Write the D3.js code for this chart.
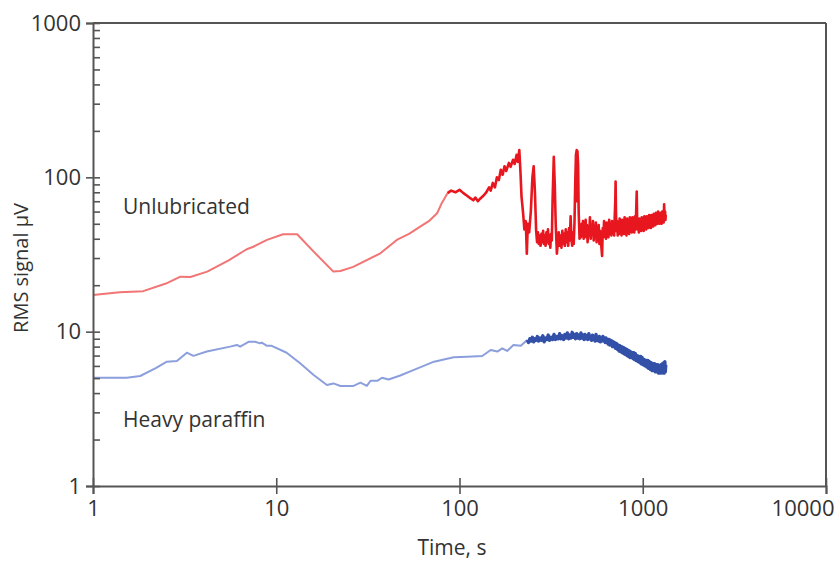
<!DOCTYPE html>
<html>
<head>
<meta charset="utf-8">
<script src="https://cdn.jsdelivr.net/npm/d3@7"></script>
<style>
  body { margin: 0; background: #fff; }
  text { font-family: "Open Sans", sans-serif; fill: #333; }
</style>
</head>
<body>
<script>
// time ticks and signal ticks
const xTicks = [1, 10, 100, 1000, 10000];
const yTicks = [1, 10, 100, 1000];
const yMinor = [2, 3, 4, 5, 6, 7, 8, 9, 20, 30, 40, 50, 60, 70, 80, 90, 200, 300, 400, 500, 600, 700, 800, 900];

// unlubricated, smooth early part [time s, µV]
const unlubSmooth = [
  [1, 17.3], [1.4, 18], [1.88, 18.3], [2.5, 20.5], [3, 22.7], [3.4, 22.6], [4.2, 24.5],
  [5.5, 29], [6.9, 34.2], [7.5, 35.5], [8.9, 39.3], [10.9, 42.8], [13, 42.8],
  [16, 33], [20.5, 24.5], [22.4, 24.7], [26.3, 26.3], [37, 32.2], [45.5, 39.3],
  [53, 43], [61, 47.9], [68, 52], [75.5, 58.5], [80, 68], [86, 79]
];

// unlubricated, noisy part
const unlubNoisy = [
  [86, 79], [90, 82], [95, 80], [100, 83], [105, 79], [110, 76], [115, 73], [119, 71], [122, 74],
  [126, 70], [130, 73], [135, 76], [140, 80], [145, 86], [148, 82], [152, 92], [156, 86], [160, 100],
  [164, 96], [168, 112], [172, 104], [176, 118], [180, 110], [186, 124], [190, 117], [196, 130],
  [200, 122], [205, 140], [208, 126], [212, 150], [215, 110], [218, 75], [222, 60], [226, 46],
  [230, 52], [233, 32], [236, 50], [240, 44], [245, 60], [250, 100], [254, 118], [258, 80], [262, 45],
  [265, 38], [268, 44], [271, 37], [274, 42], [277, 36], [280, 43], [283, 38], [286, 45], [289, 37],
  [292, 42], [295, 36], [298, 44], [301, 38], [304, 46], [307, 37], [310, 42], [313, 35], [316, 43],
  [319, 39], [322, 70], [327, 136], [331, 90], [335, 50], [340, 32], [344, 38], [348, 44], [352, 36],
  [356, 42], [360, 35], [364, 45], [368, 37], [372, 43], [376, 36], [380, 46], [384, 38], [388, 44],
  [392, 36], [396, 47], [400, 39], [404, 56], [408, 40], [412, 36], [416, 44], [420, 37], [424, 50],
  [428, 90], [432, 140], [436, 150], [438, 70], [440, 148], [444, 120], [447, 60], [452, 40],
  [456, 48], [460, 41], [464, 50], [468, 43], [472, 52], [476, 40], [480, 47], [484, 42], [488, 53],
  [492, 41], [496, 49], [500, 38], [505, 46], [510, 42], [515, 55], [520, 40], [525, 48], [530, 43],
  [535, 52], [540, 39], [545, 47], [550, 42], [555, 51], [560, 38], [565, 46], [570, 41], [575, 49],
  [580, 37], [585, 45], [590, 40], [595, 35], [600, 31], [605, 47], [610, 41], [615, 52], [620, 42],
  [625, 49], [630, 40], [635, 51], [640, 43], [645, 48], [650, 41], [656, 53], [662, 43], [668, 50],
  [674, 42], [680, 52], [686, 44], [692, 49], [698, 42], [704, 58], [708, 70], [711, 94], [714, 62],
  [718, 45], [724, 52], [730, 42], [736, 50], [742, 43], [748, 54], [754, 44], [760, 50], [766, 42],
  [772, 53], [778, 45], [784, 51], [790, 43], [796, 55], [802, 44], [808, 50], [815, 42], [822, 54],
  [829, 45], [836, 52], [843, 43], [850, 55], [857, 45], [864, 51], [871, 44], [878, 55], [885, 45],
  [892, 52], [899, 44], [906, 56], [913, 46], [920, 58], [927, 81], [932, 54], [938, 46], [945, 53],
  [952, 44], [959, 54], [966, 46], [973, 52], [980, 45], [988, 55], [996, 46], [1004, 53], [1012, 45],
  [1020, 56], [1028, 47], [1036, 54], [1044, 46], [1052, 56], [1060, 47], [1068, 54], [1076, 47],
  [1084, 57], [1092, 48], [1100, 55], [1108, 47], [1116, 57], [1124, 49], [1132, 56], [1140, 48],
  [1148, 58], [1156, 49], [1164, 56], [1172, 49], [1180, 59], [1188, 50], [1196, 57], [1204, 50],
  [1212, 60], [1220, 51], [1228, 58], [1236, 50], [1244, 59], [1252, 51], [1260, 58], [1268, 50],
  [1276, 60], [1284, 52], [1292, 58], [1300, 51], [1308, 67], [1316, 53], [1324, 60], [1330, 53],
  [1335, 57]
];

// heavy paraffin, smooth early part
const paraffinSmooth = [
  [1, 5.03], [1.53, 5.03], [1.81, 5.16], [2.2, 5.8], [2.53, 6.39], [2.87, 6.45], [3.25, 7.31],
  [3.53, 6.97], [4.18, 7.43], [5.6, 8.0], [6.1, 8.2], [6.35, 8.0], [7.06, 8.6], [7.67, 8.6],
  [8.17, 8.4], [8.34, 8.5], [8.9, 8.1], [9.45, 8.1], [11.4, 7.3], [13.5, 6.24], [16, 5.24],
  [18.9, 4.51], [20.5, 4.62], [22.4, 4.45], [26.4, 4.45], [28.8, 4.67], [31.2, 4.45], [32.7, 4.81],
  [35.6, 4.8], [37.8, 5.03], [41, 4.9], [47.5, 5.2], [56.4, 5.65], [72.6, 6.39], [93, 6.82],
  [110, 6.88], [133, 6.95], [148, 7.61], [161, 7.43], [171, 7.8], [182, 7.5], [197, 8.2],
  [216, 8.1], [234, 8.84]
];

// heavy paraffin, noisy part
const paraffinNoisy = [
  [234, 8.84], [238, 8.5], [242, 9.0], [246, 8.7], [250, 9.2], [254, 8.6], [258, 9.0], [262, 8.8],
  [266, 9.3], [270, 8.7], [275, 9.1], [280, 8.8], [285, 9.4], [290, 8.6], [295, 9.1], [300, 8.9],
  [305, 9.5], [310, 8.8], [316, 9.2], [322, 8.9], [328, 9.6], [334, 8.9], [340, 9.3], [346, 9.0],
  [352, 9.7], [358, 9.0], [364, 9.4], [370, 8.9], [376, 9.6], [382, 9.1], [388, 9.8], [394, 9.0],
  [400, 9.5], [406, 9.1], [412, 9.9], [418, 9.2], [424, 9.6], [430, 9.0], [436, 9.7], [442, 9.1],
  [448, 9.5], [454, 9.0], [460, 9.8], [466, 9.1], [472, 9.5], [478, 8.9], [484, 9.6], [490, 9.0],
  [496, 9.4], [502, 8.9], [508, 9.7], [514, 9.0], [520, 9.3], [526, 8.8], [532, 9.5], [538, 8.9],
  [544, 9.2], [550, 8.7], [556, 9.6], [562, 8.8], [568, 9.2], [574, 8.7], [580, 9.3], [586, 8.6],
  [592, 9.1], [600, 8.7], [606, 9.3], [612, 8.7], [618, 9.1], [624, 8.5], [630, 9.1], [636, 8.5],
  [642, 8.9], [648, 8.3], [654, 8.9], [660, 8.2], [666, 8.8], [672, 8.2], [678, 8.7], [684, 8.0],
  [690, 8.6], [696, 8.0], [702, 8.5], [710, 7.8], [718, 8.4], [726, 7.7], [734, 8.2], [742, 7.5],
  [750, 8.1], [758, 7.4], [766, 8.0], [774, 7.3], [782, 7.9], [790, 7.2], [798, 7.8], [806, 7.1],
  [814, 7.7], [822, 7.0], [830, 7.6], [838, 6.9], [846, 7.5], [854, 6.8], [862, 7.4], [870, 6.8],
  [878, 7.3], [886, 6.7], [894, 7.3], [902, 6.6], [912, 7.2], [922, 6.5], [932, 7.0], [942, 6.4],
  [952, 6.9], [962, 6.3], [972, 6.9], [982, 6.2], [992, 6.8], [1004, 6.1], [1016, 6.6], [1028, 6.0],
  [1040, 6.5], [1052, 5.9], [1064, 6.5], [1076, 5.8], [1088, 6.4], [1100, 5.7], [1112, 6.3],
  [1124, 5.6], [1136, 6.2], [1148, 5.6], [1160, 6.2], [1172, 5.5], [1184, 6.1], [1196, 5.5],
  [1208, 6.1], [1220, 5.4], [1232, 6.0], [1244, 5.4], [1256, 6.1], [1268, 5.4], [1280, 6.2],
  [1292, 5.4], [1302, 6.3], [1312, 5.4], [1320, 6.4], [1328, 5.5], [1335, 6.1]
];

const W = 839, H = 563;
const mLeft = 93, mRight = 826, mTop = 23, mBottom = 486;
const axisCol = "#555";

const svg = d3.select("body").append("svg")
  .attr("width", W)
  .attr("height", H);

const x = d3.scaleLog().domain([1, 10000]).range([mLeft, mRight]);
const y = d3.scaleLog().domain([1, 1000]).range([mBottom, mTop]);

const line = d3.line()
  .x(d => x(d[0]))
  .y(d => y(d[1]));

// frame top + right
svg.append("line")
  .attr("x1", mLeft).attr("x2", mRight).attr("y1", mTop).attr("y2", mTop)
  .attr("stroke", axisCol).attr("stroke-width", 2);
svg.append("line")
  .attr("x1", mRight).attr("x2", mRight).attr("y1", mTop).attr("y2", mBottom)
  .attr("stroke", axisCol).attr("stroke-width", 2);

// data lines
svg.append("path").datum(unlubSmooth)
  .attr("fill", "none").attr("stroke", "#f27474").attr("stroke-width", 2)
  .attr("stroke-linejoin", "round").attr("d", line);
svg.append("path").datum(unlubNoisy)
  .attr("fill", "none").attr("stroke", "#e8161e").attr("stroke-width", 2.6)
  .attr("stroke-linejoin", "round").attr("d", line);
svg.append("path").datum(paraffinSmooth)
  .attr("fill", "none").attr("stroke", "#8c9fdd").attr("stroke-width", 2)
  .attr("stroke-linejoin", "round").attr("d", line);
svg.append("path").datum(paraffinNoisy)
  .attr("fill", "none").attr("stroke", "#3350a8").attr("stroke-width", 3.4)
  .attr("stroke-linejoin", "round").attr("d", line);

// y axis
const yAxis = svg.append("g")
  .attr("transform", `translate(${mLeft},0)`)
  .call(d3.axisLeft(y).tickValues(yTicks).tickFormat(d3.format("d")).tickSize(7).tickPadding(5));
yAxis.selectAll(".tick line").attr("x1", 7);
const yMin = svg.append("g")
  .attr("transform", `translate(${mLeft},0)`)
  .call(d3.axisRight(y).tickValues(yMinor).tickFormat("").tickSize(7));
yMin.select(".domain").remove();

// x axis
const xAxis = svg.append("g")
  .attr("transform", `translate(0,${mBottom})`)
  .call(d3.axisBottom(x).tickValues(xTicks).tickFormat(d3.format("d")).tickSize(8).tickPadding(6));
xAxis.selectAll(".tick line").attr("y1", -8);
// last label kept inside the page
xAxis.selectAll(".tick text").filter(d => d === 10000)
  .attr("text-anchor", "end").attr("x", 8);

svg.selectAll(".domain").attr("stroke", axisCol).attr("stroke-width", 2);
svg.selectAll(".tick line").attr("stroke", axisCol).attr("stroke-width", 1.6);
svg.selectAll(".tick text")
  .attr("font-size", "22px")
  .attr("font-family", "'Open Sans', sans-serif")
  .attr("fill", "#333");

// labels
svg.append("text")
  .attr("x", 452).attr("y", 555)
  .attr("text-anchor", "middle")
  .attr("font-size", "21px")
  .text("Time, s");

svg.append("text")
  .attr("transform", "translate(28,268) rotate(-90)")
  .attr("text-anchor", "middle")
  .attr("font-size", "20px")
  .text("RMS signal µV");

svg.append("text")
  .attr("x", 123).attr("y", 214)
  .attr("font-size", "21px")
  .text("Unlubricated");

svg.append("text")
  .attr("x", 123).attr("y", 427)
  .attr("font-size", "21px")
  .text("Heavy paraffin");
</script>
</body>
</html>
